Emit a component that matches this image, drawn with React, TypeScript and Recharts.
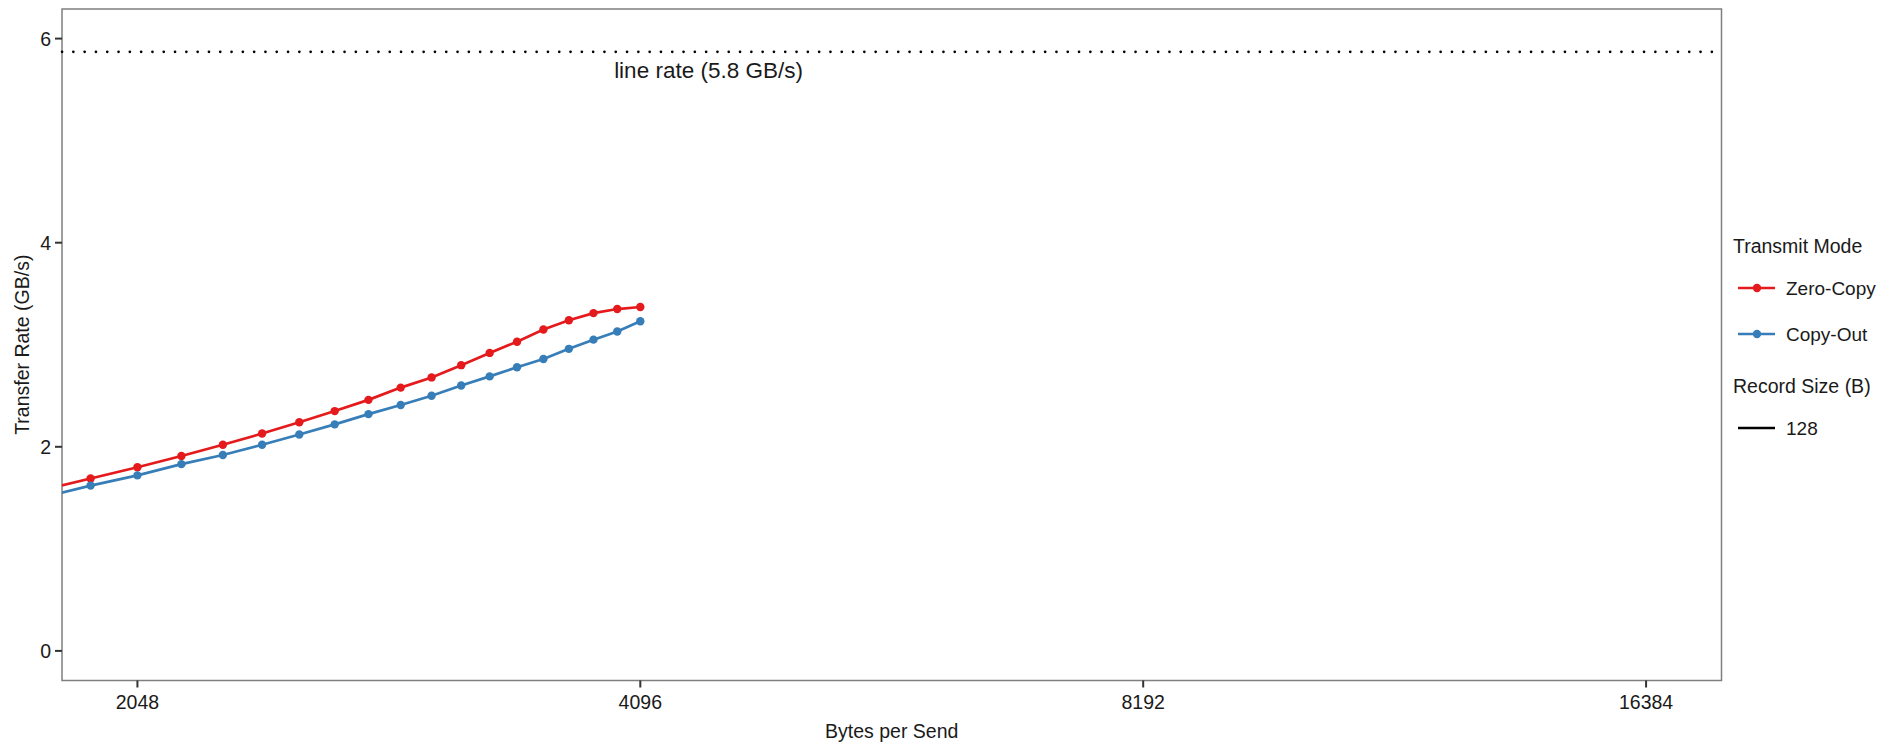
import React from "react"
import {
  LineChart,
  Line,
  XAxis,
  YAxis,
  ReferenceLine,
  ReferenceArea,
  ReferenceDot,
} from "recharts"

// bytes per send (every 128 B); the first point sits left of the visible panel
const bytesPerSend = [
  1792, 1920, 2048, 2176, 2304, 2432, 2560, 2688, 2816, 2944, 3072, 3200, 3328, 3456, 3584, 3712, 3840, 3968, 4096,
]
const zeroCopy = [
  1.57, 1.69, 1.8, 1.91, 2.02, 2.13, 2.24, 2.35, 2.46, 2.58, 2.68, 2.8, 2.92, 3.03, 3.15, 3.24, 3.31, 3.35, 3.37,
]
const copyOut = [
  1.5, 1.62, 1.72, 1.83, 1.92, 2.02, 2.12, 2.22, 2.32, 2.41, 2.5, 2.6, 2.69, 2.78, 2.86, 2.96, 3.05, 3.13, 3.23,
]

const xTicks = [2048, 4096, 8192, 16384]
const yTicks = [0, 2, 4, 6]
const xDomain = [1845.8, 18179]
const yDomain = [-0.29, 6.29]

const lineRate = 5.87
const lineRateLabel = "line rate (5.8 GB/s)"
const lineRateLabelAt = { x: 4500, y: 5.69 }

const series = [
  { key: "zeroCopy", name: "Zero-Copy", color: "#e41a1c" },
  { key: "copyOut", name: "Copy-Out", color: "#377eb8" },
]
const recordSizes = ["128"]

const data = bytesPerSend.map((b, i) => ({ bytes: b, zeroCopy: zeroCopy[i], copyOut: copyOut[i] }))

const FONT = "'Liberation Sans', Arial, sans-serif"
const TEXT = "#1a1a1a"

function makeDot(color: string) {
  return (props: any) => {
    const { cx, cy, payload, index } = props
    if (payload.bytes < xDomain[0]) return <g key={`d-${index}`} />
    return <circle key={`d-${index}`} cx={cx} cy={cy} r={4.2} fill={color} stroke="none" />
  }
}

function LegendBox() {
  return (
    <svg
      width={150}
      height={230}
      style={{ position: "absolute", left: 1730, top: 220, fontFamily: FONT, overflow: "visible" }}
    >
      <text x={3} y={26} fontSize={19.5} fill={TEXT} dominantBaseline="central">
        Transmit Mode
      </text>
      {series.map((s, i) => (
        <g key={s.key} transform={`translate(0, ${68 + i * 46})`}>
          <line x1={8} x2={45} y1={0} y2={0} stroke={s.color} strokeWidth={2.7} />
          <circle cx={27} cy={0} r={4.2} fill={s.color} />
          <text x={56} y={0} fontSize={19} fill={TEXT} dominantBaseline="central">
            {s.name}
          </text>
        </g>
      ))}
      <text x={3} y={166} fontSize={19.5} fill={TEXT} dominantBaseline="central">
        Record Size (B)
      </text>
      {recordSizes.map((r, i) => (
        <g key={r} transform={`translate(0, ${208 + i * 46})`}>
          <line x1={8} x2={45} y1={0} y2={0} stroke="#000" strokeWidth={2.7} />
          <text x={56} y={0} fontSize={19} fill={TEXT} dominantBaseline="central">
            {r}
          </text>
        </g>
      ))}
    </svg>
  )
}

export default function App() {
  return (
    <div style={{ position: "absolute", left: 0, top: 0, width: 1883, height: 744, background: "#fff" }}>
      <LineChart
        width={1883}
        height={744}
        data={data}
        margin={{ top: 9, right: 161.5, bottom: 0, left: 2 }}
        style={{ fontFamily: FONT }}
      >
        <XAxis
          dataKey="bytes"
          type="number"
          scale="log"
          domain={xDomain}
          allowDataOverflow
          ticks={xTicks}
          height={63.5}
          tickSize={7}
          tickMargin={8}
          axisLine={false}
          tickLine={{ stroke: "#333", strokeWidth: 2 }}
          tick={{ fontSize: 19.5, fill: TEXT, fontFamily: FONT }}
          label={{
            value: "Bytes per Send",
            position: "insideBottom",
            offset: 6,
            style: { fontSize: 19.5, fill: TEXT, fontFamily: FONT },
          }}
        />
        <YAxis
          type="number"
          domain={yDomain}
          allowDataOverflow
          ticks={yTicks}
          width={60}
          tickSize={7}
          tickMargin={4}
          axisLine={false}
          tickLine={{ stroke: "#333", strokeWidth: 2 }}
          tick={{ fontSize: 19.5, fill: TEXT, fontFamily: FONT }}
          label={{
            value: "Transfer Rate (GB/s)",
            angle: -90,
            position: "insideLeft",
            offset: 20,
            style: { fontSize: 19.5, fill: TEXT, fontFamily: FONT, textAnchor: "middle" },
          }}
        />
        <ReferenceArea
          x1={xDomain[0]}
          x2={xDomain[1]}
          y1={yDomain[0]}
          y2={yDomain[1]}
          ifOverflow="visible"
          fill="none"
          fillOpacity={0}
          stroke="#7f7f7f"
          strokeWidth={1.5}
        />
        <ReferenceLine
          y={lineRate}
          stroke="#000"
          strokeWidth={2.6}
          strokeLinecap="round"
          strokeDasharray="0.1 11.2"
        />
        <ReferenceDot
          x={lineRateLabelAt.x}
          y={lineRateLabelAt.y}
          r={0}
          fill="none"
          stroke="none"
          label={{ value: lineRateLabel, position: "center", style: { fontSize: 22.5, fill: TEXT, fontFamily: FONT } }}
        />
        {series.map((s) => (
          <Line
            key={s.key}
            dataKey={s.key}
            name={s.name}
            type="linear"
            stroke={s.color}
            strokeWidth={2.7}
            dot={makeDot(s.color)}
            activeDot={false}
            isAnimationActive={false}
          />
        ))}
      </LineChart>
      <LegendBox />
    </div>
  )
}
